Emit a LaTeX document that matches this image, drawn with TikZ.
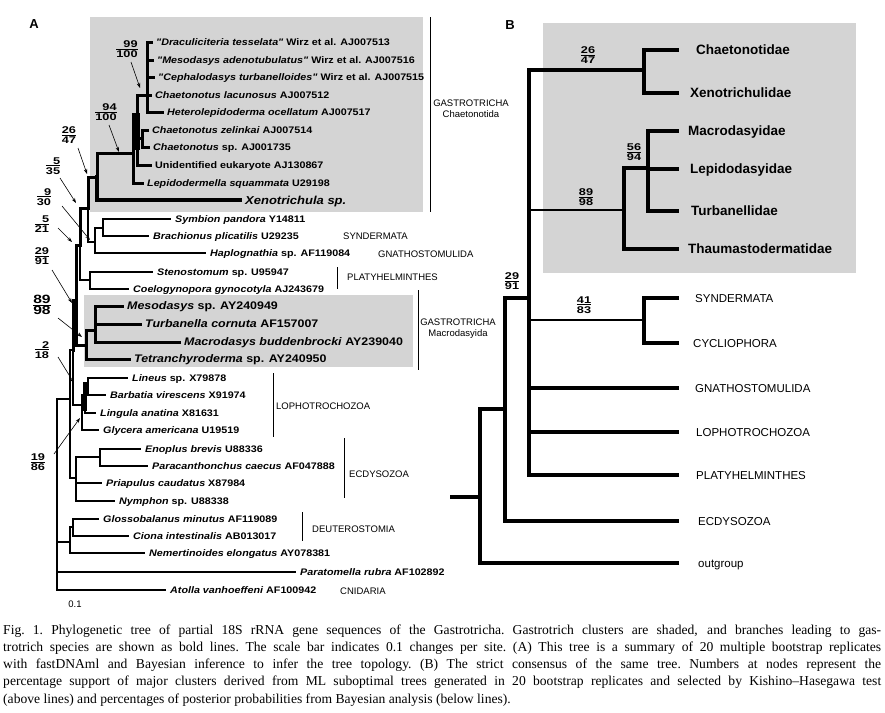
\documentclass[tikz,border=0pt]{standalone}
\usepackage{fontspec}
\setmainfont{Liberation Sans}
\newfontfamily\spfont[FakeStretch=1.13]{Liberation Sans}
\newfontfamily\supfont[FakeStretch=1.3]{Liberation Sans}
\newfontfamily\captfont{Liberation Serif}
\usetikzlibrary{arrows.meta}
\definecolor{boxgray}{RGB}{212,212,212}
\newcommand\supp[2]{\setbox0=\hbox{#2}\vbox{\hbox to\wd0{\hss #1}\kern0.8pt\hrule height0.6pt\kern1.2pt\box0}}
\newcommand\brch[3][brA]{\draw[#1] (#2) |- ([xshift=-5pt]#3.west);}
\newcommand\brchB[3][brB]{\draw[#1] (#2) |- (Bend |- #3.west);}
\newcommand\captline[1]{\hbox to 878pt{\spaceskip=3.4pt plus 1fil\xspaceskip=3.4pt plus 1fil #1}}
\tikzset{
  shadebox/.style={fill=boxgray},
  brA/.style={line width=1.4pt, line cap=rect},
  brG/.style={line width=3pt, line cap=rect},
  brX/.style={line width=3.5pt, line cap=rect},
  brB/.style={line width=3.5pt, line cap=rect},
  brBt/.style={line width=2.4pt, line cap=rect},
  grpbar/.style={line width=0.9pt},
  tipA/.style={anchor=west, inner sep=0pt, text height=6.8pt, text depth=0pt, font=\spfont\bfseries\fontsize{9.5}{11}\selectfont},
  tipAbig/.style={tipA, text height=7.9pt, font=\spfont\bfseries\fontsize{11}{13}\selectfont},
  tipX/.style={tipA, text height=8.3pt, font=\spfont\bfseries\itshape\fontsize{11.5}{13}\selectfont},
  grpA/.style={anchor=west, inner sep=0pt, text height=6.8pt, text depth=0pt, font=\fontsize{9.5}{11}\selectfont},
  grpA2/.style={inner sep=0pt, align=center, font=\fontsize{9.5}{11}\selectfont},
  suplab/.style={inner sep=0pt, font=\supfont\bfseries\fontsize{9.8}{11}\selectfont},
  suplabbig/.style={inner sep=0pt, font=\supfont\bfseries\fontsize{12}{14}\selectfont},
  suparr/.style={line width=0.6pt, -{Stealth[length=5pt,width=3.5pt]}},
  famB/.style={anchor=west, inner sep=0pt, text height=9.7pt, text depth=0pt, font=\bfseries\fontsize{13.5}{16}\selectfont},
  grpB/.style={anchor=west, inner sep=0pt, text height=8.3pt, text depth=0pt, font=\fontsize{11.5}{14}\selectfont},
  panel/.style={inner sep=0pt, font=\bfseries\fontsize{13}{15}\selectfont},
  captl/.style={anchor=base west, inner sep=0pt, font=\captfont\fontsize{13.6}{17.1}\selectfont},
}
\begin{document}
\begin{tikzpicture}[x=1pt,y=-1pt]
\useasboundingbox (0,0) rectangle (885,712);
\fill[white] (0,0) rectangle (885,712);

% ================= Panel A =================
\node[panel] (labA) at (34,24) {A};
\fill[shadebox] (90,17) rectangle (423,212);
\fill[shadebox] (84,295) rectangle (413,367);

% internal nodes
\coordinate (R) at (57,399);
\coordinate (I) at (70,399);
\coordinate (L2) at (73,350);
\coordinate (N29) at (76,300);
\coordinate (N521) at (80,245);
\coordinate (N535) at (88,208);
\coordinate (Cht) at (97,177);
\coordinate (N94) at (133,153);
\coordinate (N99b) at (137,120);
\coordinate (N99) at (147,95);
\coordinate (Nzs) at (142,138);
\coordinate (N930) at (95,242);
\coordinate (SB) at (103,228);
\coordinate (Pla) at (90,280);
\coordinate (Mac) at (86,345);
\coordinate (Msub) at (95,330);
\coordinate (Lop) at (82,405);
\coordinate (LBL) at (85,395);
\coordinate (LB) at (88,386);
\coordinate (E) at (76,478);
\coordinate (EP) at (100,457);
\coordinate (DN) at (70,542);
\coordinate (GC) at (73,527);

% tips
\node[tipA] (tDra) at (156,42) {\textit{"Draculiciteria tesselata"} Wirz et al. AJ007513};
\node[tipA] (tMsA) at (157,60) {\textit{"Mesodasys adenotubulatus"} Wirz et al. AJ007516};
\node[tipA] (tCep) at (158,77) {\textit{"Cephalodasys turbanelloides"} Wirz et al. AJ007515};
\node[tipA] (tLac) at (155,95) {\textit{Chaetonotus lacunosus} AJ007512};
\node[tipA] (tHet) at (167,112) {\textit{Heterolepidoderma ocellatum} AJ007517};
\node[tipA] (tZel) at (152,130) {\textit{Chaetonotus zelinkai} AJ007514};
\node[tipA] (tCsp) at (153,147) {\textit{Chaetonotus} sp. AJ001735};
\node[tipA] (tUni) at (155,165) {Unidentified eukaryote AJ130867};
\node[tipA] (tLep) at (147,183) {\textit{Lepidodermella squammata} U29198};
\node[tipX] (tXen) at (245,200) {Xenotrichula sp.};
\node[tipA] (tSym) at (175,219) {\textit{Symbion pandora} Y14811};
\node[tipA] (tBra) at (153,236) {\textit{Brachionus plicatilis} U29235};
\node[tipA] (tHap) at (210,253) {\textit{Haplognathia} sp. AF119084};
\node[tipA] (tSte) at (157,272) {\textit{Stenostomum} sp. U95947};
\node[tipA] (tCoe) at (133,289) {\textit{Coelogynopora gynocotyla} AJ243679};
\node[tipAbig] (tMes) at (127,306) {\textit{Mesodasys} sp. AY240949};
\node[tipAbig] (tTur) at (145,324) {\textit{Turbanella cornuta} AF157007};
\node[tipAbig] (tMcd) at (184,342) {\textit{Macrodasys buddenbrocki} AY239040};
\node[tipAbig] (tTet) at (134,359) {\textit{Tetranchyroderma} sp. AY240950};
\node[tipA] (tLin) at (132,378) {\textit{Lineus} sp. X79878};
\node[tipA] (tBar) at (110,395) {\textit{Barbatia virescens} X91974};
\node[tipA] (tLin2) at (100,413) {\textit{Lingula anatina} X81631};
\node[tipA] (tGly) at (103,430) {\textit{Glycera americana} U19519};
\node[tipA] (tEno) at (145,449) {\textit{Enoplus brevis} U88336};
\node[tipA] (tPar) at (152,466) {\textit{Paracanthonchus caecus} AF047888};
\node[tipA] (tPri) at (106,483) {\textit{Priapulus caudatus} X87984};
\node[tipA] (tNym) at (119,501) {\textit{Nymphon} sp. U88338};
\node[tipA] (tGlo) at (103,519) {\textit{Glossobalanus minutus} AF119089};
\node[tipA] (tCio) at (133,536) {\textit{Ciona intestinalis} AB013017};
\node[tipA] (tNem) at (149,553) {\textit{Nemertinoides elongatus} AY078381};
\node[tipA] (tPat) at (300,572) {\textit{Paratomella rubra} AF102892};
\node[tipA] (tAto) at (170,590) {\textit{Atolla vanhoeffeni} AF100942};

% Chaetonotida branches
\brch[brG]{N99}{tDra}
\brch[brG]{N99}{tMsA}
\brch[brG]{N99}{tCep}
\brch[brG]{N99}{tLac}
\brch[brG]{N99}{tHet}
\draw[brG] (N99b) |- (N99);
\draw[brG] (N99b) |- (Nzs);
\brch[brG]{Nzs}{tZel}
\brch[brG]{Nzs}{tCsp}
\brch[brG]{N99b}{tUni}
\draw[brG] (N94) |- (N99b);
\brch[brG]{N94}{tLep}
\draw[brG] (Cht) |- (N94);
\brch[brX]{Cht}{tXen}
\fill (132,113) rectangle (140,150);

% backbone
\draw[brG] (N535) |- (Cht);
\draw[brA] (N535) |- (N930);
\draw[brA] (N930) |- (SB);
\brch{SB}{tSym}
\brch{SB}{tBra}
\brch{N930}{tHap}
\draw[brG] (N521) |- (N535);
\draw[brA] (N521) |- (Pla);
\brch{Pla}{tSte}
\brch{Pla}{tCoe}
\draw[brG] (N29) |- (N521);
\draw[brG] (N29) |- (Mac);
\draw[brG] (Mac) |- (Msub);
\brch[brG]{Msub}{tMes}
\brch[brG]{Msub}{tTur}
\brch[brG]{Msub}{tMcd}
\brch[brG]{Mac}{tTet}
\draw[brG] (L2) |- (N29);
\draw[brA] (L2) |- (Lop);
\draw[brA] (Lop) |- (LBL);
\draw[brA] (LBL) |- (LB);
\brch{LB}{tLin}
\brch{LB}{tBar}
\brch{LBL}{tLin2}
\brch{Lop}{tGly}
\fill (83,382) rectangle (87,411);
\draw[brA] (I) |- (L2);
\draw[brA] (I) |- (E);
\draw[brA] (E) |- (EP);
\brch{EP}{tEno}
\brch{EP}{tPar}
\brch{E}{tPri}
\brch{E}{tNym}
\draw[brA] (R) |- (I);
\draw[brA] (R) |- (DN);
\draw[brA] (DN) |- (GC);
\brch{GC}{tGlo}
\brch{GC}{tCio}
\brch{DN}{tNem}
\brch{R}{tPat}
\brch{R}{tAto}

% group bars and labels
\draw[grpbar] (430,17) -- (430,212);
\draw[grpbar] (337,267) -- (337,289);
\draw[grpbar] (418,290) -- (418,370);
\draw[grpbar] (273,373) -- (273,437);
\draw[grpbar] (344,438) -- (344,498);
\draw[grpbar] (302,512) -- (302,541);
\node[grpA2] (gCha) at (471,108.5) {GASTROTRICHA\\Chaetonotida};
\node[grpA] (gSyn) at (343,236) {SYNDERMATA};
\node[grpA] (gGna) at (378,254) {GNATHOSTOMULIDA};
\node[grpA] (gPla) at (347,277) {PLATYHELMINTHES};
\node[grpA2] (gMac) at (458,329) {GASTROTRICHA\\Macrodasyida};
\node[grpA] (gLop) at (276,406) {LOPHOTROCHOZOA};
\node[grpA] (gEcd) at (349,474) {ECDYSOZOA};
\node[grpA] (gDeu) at (312,529) {DEUTEROSTOMIA};
\node[grpA] (gCni) at (340,591) {CNIDARIA};
\node[grpA, anchor=center, text height=6.8pt] (scl) at (75,604) {0.1};

% support values, panel A
\node[suplab] (s99) at (127,49) {\supp{99}{100}};
\node[suplab] (s94) at (106,112) {\supp{94}{100}};
\node[suplab] (s2647) at (69,135) {\supp{26}{47}};
\node[suplab] (s535) at (53,166) {\supp{5}{35}};
\node[suplab] (s930) at (44,197) {\supp{9}{30}};
\node[suplab] (s521) at (42,224) {\supp{5}{21}};
\node[suplab] (s2991) at (42,256) {\supp{29}{91}};
\node[suplabbig] (s8998) at (42,305) {\supp{89}{98}};
\node[suplab] (s218) at (42,350) {\supp{2}{18}};
\node[suplab] (s1986) at (38,462) {\supp{19}{86}};
\coordinate (a99a) at (131,62);  \coordinate (a99b) at (140,88);
\coordinate (a94a) at (109,125); \coordinate (a94b) at (119,152);
\coordinate (a26a) at (78,148);  \coordinate (a26b) at (87,174);
\coordinate (a5a) at (60,178);   \coordinate (a5b) at (76,203);
\coordinate (a9a) at (62,206);   \coordinate (a9b) at (90,240);
\coordinate (a521a) at (58,228); \coordinate (a521b) at (72,242);
\coordinate (a29a) at (52,270);  \coordinate (a29b) at (72,303);
\coordinate (a89a) at (58,318);  \coordinate (a89b) at (82,337);
\coordinate (a2a) at (58,357);   \coordinate (a2b) at (74,383);
\coordinate (a19a) at (54,454);  \coordinate (a19b) at (80,418);
\draw[suparr] (a99a) -- (a99b);
\draw[suparr] (a94a) -- (a94b);
\draw[suparr] (a26a) -- (a26b);
\draw[suparr] (a5a) -- (a5b);
\draw[suparr] (a9a) -- (a9b);
\draw[suparr] (a521a) -- (a521b);
\draw[suparr] (a29a) -- (a29b);
\draw[suparr] (a89a) -- (a89b);
\draw[suparr] (a2a) -- (a2b);
\draw[suparr] (a19a) -- (a19b);

% ================= Panel B =================
\node[panel] (labB) at (510,25) {B};
\fill[shadebox] (543,23) rectangle (856,273);
\coordinate (Bend) at (677,0);
\coordinate (Bst) at (452,497);
\coordinate (BR) at (480,497);
\coordinate (BE) at (505,409);
\coordinate (BS) at (529,298);
\coordinate (BC) at (644,70);
\coordinate (BM) at (624,210);
\coordinate (BM2) at (648,168);
\coordinate (BSC) at (644,320);

\node[famB] (uChae) at (696,50) {Chaetonotidae};
\node[famB] (uXen) at (690,93) {Xenotrichulidae};
\node[famB] (uMac) at (688,131) {Macrodasyidae};
\node[famB] (uLep) at (690,169) {Lepidodasyidae};
\node[famB] (uTur) at (691,211) {Turbanellidae};
\node[famB] (uTha) at (688,249) {Thaumastodermatidae};
\node[grpB] (uSyn) at (695,298) {SYNDERMATA};
\node[grpB] (uCyc) at (693,343) {CYCLIOPHORA};
\node[grpB] (uGna) at (695,388) {GNATHOSTOMULIDA};
\node[grpB] (uLop) at (696,432) {LOPHOTROCHOZOA};
\node[grpB] (uPla) at (696,475) {PLATYHELMINTHES};
\node[grpB] (uEcd) at (698,521) {ECDYSOZOA};
\node[grpB] (uOut) at (698,563) {outgroup};

\draw[brB] (Bst) -- (BR);
\draw[brB] (BR) |- (BE);
\brchB{BR}{uOut}
\draw[brB] (BE) |- (BS);
\brchB{BE}{uEcd}
\draw[brB] (BS) |- (BC);
\brchB{BC}{uChae}
\brchB{BC}{uXen}
\draw[brBt] (BS) |- (BM);
\draw[brB] (BM) |- (BM2);
\brchB{BM2}{uMac}
\brchB{BM2}{uLep}
\brchB{BM2}{uTur}
\brchB{BM}{uTha}
\draw[brBt] (BS) |- (BSC);
\brchB{BSC}{uSyn}
\brchB{BSC}{uCyc}
\brchB{BS}{uGna}
\brchB{BS}{uLop}
\brchB{BS}{uPla}

\node[suplab] (v2647) at (588,55) {\supp{26}{47}};
\node[suplab] (v5694) at (634,152) {\supp{56}{94}};
\node[suplab] (v8998) at (586,197) {\supp{89}{98}};
\node[suplab] (v2991) at (512,281) {\supp{29}{91}};
\node[suplab] (v4183) at (584,305) {\supp{41}{83}};

% ================= Caption =================
\node[captl] (c1) at (3,634.5) {\captline{Fig. 1. Phylogenetic tree of partial 18S rRNA gene sequences of the Gastrotricha. Gastrotrich clusters are shaded, and branches leading to gas-}};
\node[captl] (c2) at (3,651.6) {\captline{trotrich species are shown as bold lines. The scale bar indicates 0.1 changes per site. (A) This tree is a summary of 20 multiple bootstrap replicates}};
\node[captl] (c3) at (3,668.7) {\captline{with fastDNAml and Bayesian inference to infer the tree topology. (B) The strict consensus of the same tree. Numbers at nodes represent the}};
\node[captl] (c4) at (3,685.8) {\captline{percentage support of major clusters derived from ML suboptimal trees generated in 20 bootstrap replicates and selected by Kishino–Hasegawa test}};
\node[captl] (c5) at (3,703) {\frenchspacing (above lines) and percentages of posterior probabilities from Bayesian analysis (below lines).};
\end{tikzpicture}
\end{document}
